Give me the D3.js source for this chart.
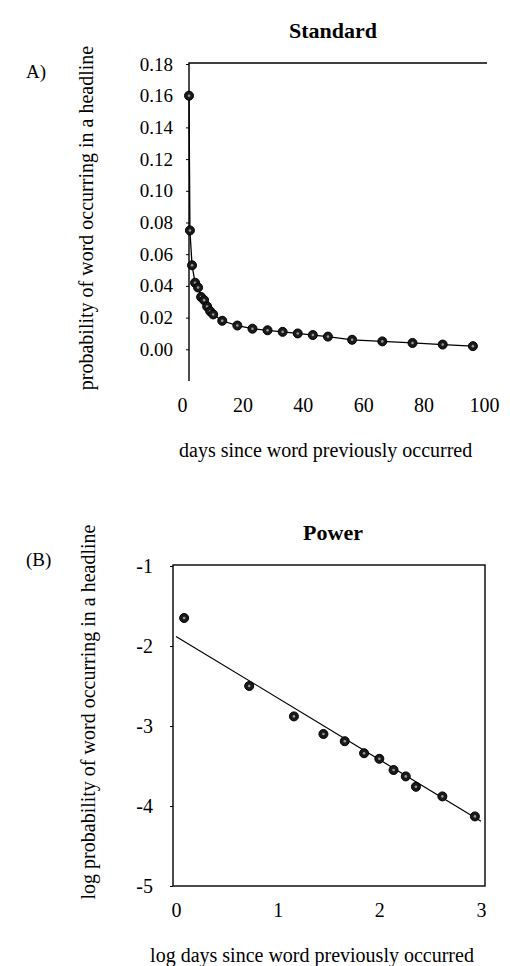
<!DOCTYPE html>
<html>
<head>
<meta charset="utf-8">
<script src="https://cdn.jsdelivr.net/npm/d3@7/dist/d3.min.js"></script>
<style>
  body { margin: 0; background: #fff; }
  svg { display: block; font-family: "Liberation Serif", "DejaVu Serif", serif; }
</style>
</head>
<body>
<div id="chart"></div>
<script>
// panel A: raw probability vs days
const daysA = [1, 1.3, 2, 3, 4, 5, 6, 7, 8, 9, 12, 17, 22, 27, 32, 37, 42, 47, 55, 65, 75, 85, 95];
const probA = [0.160, 0.075, 0.053, 0.042, 0.039, 0.033, 0.031, 0.027, 0.024, 0.022, 0.018, 0.015,
               0.013, 0.012, 0.011, 0.010, 0.009, 0.008, 0.006, 0.005, 0.004, 0.003, 0.002];
const yTicksA = [0, 0.02, 0.04, 0.06, 0.08, 0.10, 0.12, 0.14, 0.16, 0.18];
const xTicksA = [0, 20, 40, 60, 80, 100];

// panel B: log-log with fitted line
const logDaysB = [0.08, 0.72, 1.16, 1.45, 1.66, 1.85, 2.00, 2.14, 2.26, 2.36, 2.62, 2.94];
const logProbB = [-1.65, -2.50, -2.88, -3.10, -3.19, -3.34, -3.41, -3.55, -3.63, -3.76, -3.88, -4.13];
const fitB = [[0, -1.88], [3, -4.19]];
const yTicksB = [-5, -4, -3, -2, -1];
const xTicksB = [0, 1, 2, 3];

const W = 510, H = 966;
const svg = d3.select("#chart").append("svg").attr("width", W).attr("height", H);

function dot(g, x, y) {
  g.append("circle").attr("cx", x).attr("cy", y).attr("r", 4.5)
    .attr("fill", "#1a1a1a").attr("stroke", "#000").attr("stroke-width", 1);
  g.append("circle").attr("cx", x).attr("cy", y).attr("r", 1.3).attr("fill", "#999");
}

// ---------- A ----------
{
  const left = 189, right = 487, top = 63, bottom = 381;
  const x = d3.scaleLinear().domain([0, 100]).range([186, 488]);
  const y = d3.scaleLinear().domain([-0.02, 0.18]).range([bottom, 64]);
  const g = svg.append("g");

  g.append("text").attr("x", 333).attr("y", 38).attr("text-anchor", "middle")
    .attr("font-size", 22).attr("font-weight", "bold").text("Standard");
  g.append("text").attr("x", 26).attr("y", 78).attr("font-size", 19).text("A)");

  // frame: only left and top survive in the scan
  g.append("path").attr("d", `M${left},${bottom}V${top}H${right}`)
    .attr("fill", "none").attr("stroke", "#000").attr("stroke-width", 1.4);

  const yAxis = d3.axisLeft(y).tickValues(yTicksA).tickSize(3).tickFormat(d3.format(".2f"));
  g.append("g").attr("transform", `translate(${left},0)`).call(yAxis)
    .call(a => a.select(".domain").remove())
    .call(a => a.selectAll("text").attr("font-size", 19).attr("font-family", "Liberation Serif").attr("dx", -10));

  const xAxis = d3.axisBottom(x).tickValues(xTicksA).tickSize(0);
  g.append("g").attr("transform", `translate(-4,${bottom + 14})`).call(xAxis)
    .call(a => a.select(".domain").remove())
    .call(a => a.selectAll("text").attr("font-size", 20).attr("font-family", "Liberation Serif"));

  g.append("text").attr("transform", "translate(93,218) rotate(-90)").attr("text-anchor", "middle")
    .attr("font-size", 20).text("probability of word occurring in a headline");
  g.append("text").attr("x", 179).attr("y", 457)
    .attr("font-size", 20).text("days since word previously occurred");

  const pts = daysA.map((d, i) => [x(d), y(probA[i])]);
  g.append("path").attr("d", d3.line()(pts)).attr("fill", "none").attr("stroke", "#000").attr("stroke-width", 1.3);
  pts.forEach(p => dot(g, p[0], p[1]));
}

// ---------- B ----------
{
  const left = 173, right = 485, top = 565, bottom = 886;
  const x = d3.scaleLinear().domain([0, 3]).range([176, 481]);
  const y = d3.scaleLinear().domain([-5, -1]).range([bottom, 566]);
  const g = svg.append("g");

  g.append("text").attr("x", 333).attr("y", 540).attr("text-anchor", "middle")
    .attr("font-size", 22).attr("font-weight", "bold").text("Power");
  g.append("text").attr("x", 26).attr("y", 566).attr("font-size", 19).text("(B)");

  g.append("rect").attr("x", left).attr("y", top).attr("width", right - left).attr("height", bottom - top)
    .attr("fill", "none").attr("stroke", "#000").attr("stroke-width", 1.4);

  // plain hyphen minus, as in the scan
  const yAxis = d3.axisLeft(y).tickValues(yTicksB).tickSize(3).tickFormat(d => String(d));
  g.append("g").attr("transform", `translate(${left},0)`).call(yAxis)
    .call(a => a.select(".domain").remove())
    .call(a => a.selectAll("text").attr("font-size", 20).attr("font-family", "Liberation Serif").attr("dx", -14));

  const xAxis = d3.axisBottom(x).tickValues(xTicksB).tickSize(0).tickFormat(d => String(d));
  g.append("g").attr("transform", `translate(0,${bottom + 14})`).call(xAxis)
    .call(a => a.select(".domain").remove())
    .call(a => a.selectAll("text").attr("font-size", 20).attr("font-family", "Liberation Serif"));

  g.append("text").attr("transform", "translate(95,712) rotate(-90)").attr("text-anchor", "middle")
    .attr("font-size", 20).text("log probability of word occurring in a headline");
  g.append("text").attr("x", 312).attr("y", 962).attr("text-anchor", "middle")
    .attr("font-size", 20).text("log days since word previously occurred");

  g.append("path").attr("d", d3.line()(fitB.map(d => [x(d[0]), y(d[1])])))
    .attr("fill", "none").attr("stroke", "#000").attr("stroke-width", 1.2);
  logDaysB.forEach((d, i) => dot(g, x(d), y(logProbB[i])));
}
</script>
</body>
</html>
